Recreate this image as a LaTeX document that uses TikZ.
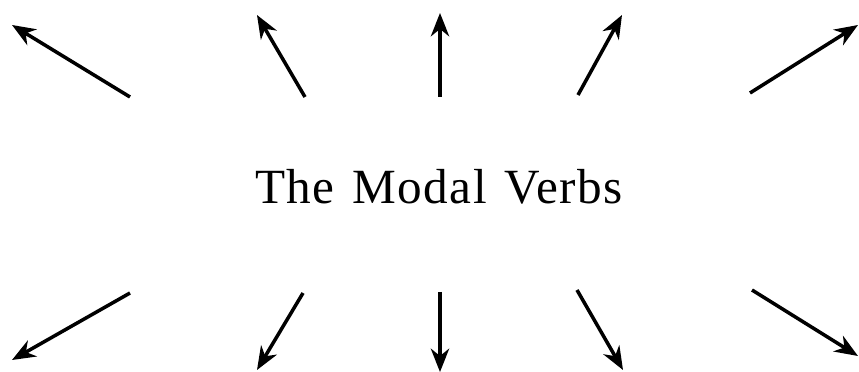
\documentclass[tikz,border=0pt]{standalone}
\usepackage{fontspec}
\setmainfont{Liberation Serif}
\newfontfamily\titlefont[LetterSpace=3,WordSpace=1.3]{Liberation Serif}
\usetikzlibrary{arrows.meta}

\begin{document}
\begin{tikzpicture}[x=0.03cm,y=-0.03cm,
        title/.style={font=\titlefont\fontsize{42}{46}\selectfont,anchor=base},
        arr/.style={-{Stealth[length=7mm,width=5.5mm,inset=2.2mm]},line width=3pt,draw=black}]
        \useasboundingbox (0,0) rectangle (859,372);
        \node[title] (verbs) at (439,204) {The Modal Verbs};
        % tails
        \coordinate (t1) at (130,97);
        \coordinate (t2) at (305,97);
        \coordinate (t3) at (440,97);
        \coordinate (t4) at (578,95);
        \coordinate (t5) at (750,93);
        \coordinate (b1) at (130,293);
        \coordinate (b2) at (303,293);
        \coordinate (b3) at (440,292);
        \coordinate (b4) at (577,290);
        \coordinate (b5) at (752,290);
        % tips
        \coordinate (tt1) at (12,25);
        \coordinate (tt2) at (257,15);
        \coordinate (tt3) at (440,13);
        \coordinate (tt4) at (622,15);
        \coordinate (tt5) at (858,25);
        \coordinate (bb1) at (12,360);
        \coordinate (bb2) at (257,370);
        \coordinate (bb3) at (440,372);
        \coordinate (bb4) at (623,370);
        \coordinate (bb5) at (858,356);
        \foreach \i in {1,...,5}{
          \draw[arr] (t\i) -- (tt\i);
          \draw[arr] (b\i) -- (bb\i);
        }
      \end{tikzpicture}
\end{document}
